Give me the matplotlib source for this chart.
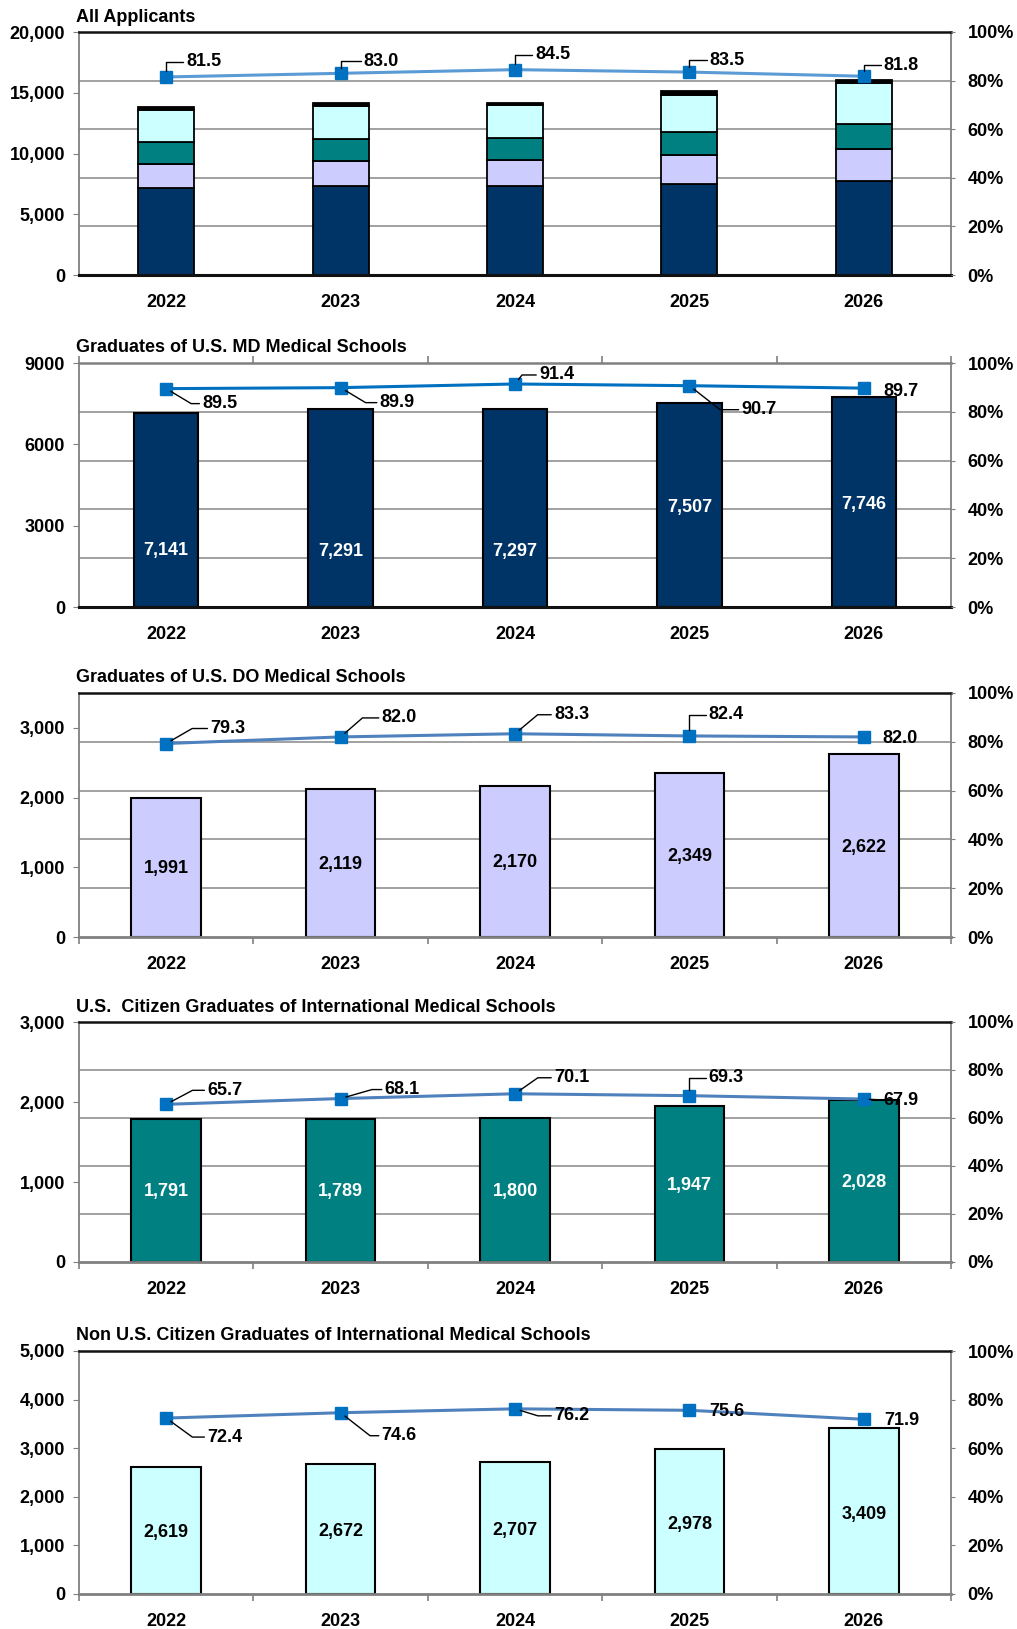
import numpy as np
import matplotlib
matplotlib.use("Agg")
import matplotlib.pyplot as plt
from matplotlib.ticker import FixedLocator, FuncFormatter

plt.rcParams['font.family'] = ['Liberation Sans', 'DejaVu Sans']
plt.rcParams['font.weight'] = 'bold'

years = ['2022', '2023', '2024', '2025', '2026']

# applicants by group
md_grads = [7141, 7291, 7297, 7507, 7746]
do_grads = [1991, 2119, 2170, 2349, 2622]
us_img = [1791, 1789, 1800, 1947, 2028]
non_us_img = [2619, 2672, 2707, 2978, 3409]
other_apps = [280, 280, 175, 325, 235]

# match rates (%)
all_pct = [81.5, 83.0, 84.5, 83.5, 81.8]
md_pct = [89.5, 89.9, 91.4, 90.7, 89.7]
do_pct = [79.3, 82.0, 83.3, 82.4, 82.0]
us_img_pct = [65.7, 68.1, 70.1, 69.3, 67.9]
non_us_img_pct = [72.4, 74.6, 76.2, 75.6, 71.9]

titles = ['All Applicants',
          'Graduates of U.S. MD Medical Schools',
          'Graduates of U.S. DO Medical Schools',
          'U.S.  Citizen Graduates of International Medical Schools',
          'Non U.S. Citizen Graduates of International Medical Schools']

NAVY = '#003366'
LAV = '#CCCCFF'
TEAL = '#008080'
CYAN = '#CCFFFF'
GRID = '#9a9a9a'
FS = 13

W, H = 1017, 1629
fig = plt.figure(figsize=(W / 100, H / 100), dpi=100)

# panel frames in pixels (top, bottom)
frames = [(32, 275), (363, 607), (693, 937), (1022, 1262), (1351, 1594)]
left_px, right_px = 79, 951


def make_axes(top, bottom):
    return fig.add_axes([left_px / W, 1 - bottom / H,
                         (right_px - left_px) / W, (bottom - top) / H])


def setup(ax, ymax, step, fmt_comma, top_style, bottom_style):
    ax.set_xlim(-0.5, 4.5)
    ax.set_ylim(0, ymax)
    ax.set_xticks(range(5))
    ax.set_xticklabels(years, fontsize=FS, fontweight='bold')
    ax.tick_params(axis='x', which='major', length=0, pad=14)
    ax.set_yticks(np.arange(0, ymax + 1, step))
    if fmt_comma:
        ax.yaxis.set_major_formatter(FuncFormatter(lambda v, p: f'{int(v):,}'))
    else:
        ax.yaxis.set_major_formatter(FuncFormatter(lambda v, p: f'{int(v)}'))
    ax.tick_params(axis='y', which='major', length=4, color='#808080',
                   labelsize=FS, pad=6)
    for lab in ax.get_yticklabels():
        lab.set_fontweight('bold')
    # gridlines follow the right-hand percent axis
    ax.yaxis.set_minor_locator(FixedLocator(np.linspace(0, ymax, 6)[1:-1]))
    ax.tick_params(axis='y', which='minor', length=0)
    ax.grid(which='minor', axis='y', color=GRID, lw=1.3)
    ax.set_axisbelow(True)
    ax.spines['left'].set_color('#808080')
    ax.spines['left'].set_linewidth(1.3)
    ax.spines['right'].set_color('#808080')
    ax.spines['right'].set_linewidth(1.3)
    if top_style == 'black':
        ax.spines['top'].set_color('#111111')
        ax.spines['top'].set_linewidth(1.8)
    else:
        ax.spines['top'].set_color('#808080')
        ax.spines['top'].set_linewidth(1.8)
    if bottom_style == 'black':
        ax.spines['bottom'].set_color('#111111')
        ax.spines['bottom'].set_linewidth(2.2)
    else:
        ax.spines['bottom'].set_color('#808080')
        ax.spines['bottom'].set_linewidth(2.0)
        ax.xaxis.set_minor_locator(FixedLocator(np.arange(-0.5, 5, 1)))
        ax.tick_params(axis='x', which='minor', length=5, color='#808080', width=1.2)
    if top_style == 'gray_ticks':
        ax.xaxis.set_minor_locator(FixedLocator(np.arange(-0.5, 5, 1)))
        ax.tick_params(axis='x', which='minor', length=5, color='#808080',
                       width=1.2, top=True, bottom=False)


def pct_axis(ax, pct, line_color, label_specs):
    ax2 = ax.twinx()
    ax2.set_ylim(0, 100)
    ax2.set_yticks(np.arange(0, 101, 20))
    ax2.yaxis.set_major_formatter(FuncFormatter(lambda v, p: f'{int(v)}%'))
    ax2.tick_params(axis='y', length=3, color='#808080', labelsize=FS, pad=9)
    for lab in ax2.get_yticklabels():
        lab.set_fontweight('bold')
    for s in ax2.spines.values():
        s.set_visible(False)
    x = np.arange(5)
    ax2.plot(x, pct, color=line_color, lw=2.2, zorder=3)
    ax2.plot(x, pct, ls='none', marker='s', ms=8, color='#0070C0', zorder=4)
    for i, (v, (dx, dy, ang)) in enumerate(zip(pct, label_specs)):
        kw = dict(xy=(i, v), xytext=(dx, dy), textcoords='offset pixels',
                  ha='left', va='center', fontsize=FS, fontweight='bold',
                  color='black', zorder=5)
        if ang is None:
            ax2.annotate(f'{v:.1f}', **kw)
        else:
            if ang == 'h':
                cs = 'arc3,rad=0'
            else:
                cs = f'angle,angleA=0,angleB={ang},rad=0'
            ax2.annotate(f'{v:.1f}', arrowprops=dict(
                arrowstyle='-', color='black', lw=1.0, shrinkA=0, shrinkB=4,
                relpos=(0, 0.5), connectionstyle=cs), **kw)
    return ax2


def title(ax, text):
    ax.annotate(text, xy=(0, 1), xycoords='axes fraction', xytext=(-3, 15),
                textcoords='offset pixels', ha='left', va='center',
                fontsize=FS, fontweight='bold')


def bar_labels(ax, vals, color, fracs):
    for i, (v, f) in enumerate(zip(vals, fracs)):
        ax.text(i, v * f, f'{v:,}', ha='center', va='center', color=color,
                fontsize=FS, fontweight='bold', zorder=4)


x = np.arange(5)

# ---- panel 1: all applicants, stacked ----
ax = make_axes(*frames[0])
setup(ax, 20000, 5000, True, 'black', 'black')
bottom = np.zeros(5)
for vals, col in [(md_grads, NAVY), (do_grads, LAV), (us_img, TEAL),
                  (non_us_img, CYAN), (other_apps, 'black')]:
    ax.bar(x, vals, 0.32, bottom=bottom, color=col, edgecolor='black', lw=1.3, zorder=2)
    bottom += np.array(vals)
pct_axis(ax, all_pct, '#5B9BD5',
         [(20, 15, 90), (23, 12, 90), (20, 15, 90), (20, 12, 90), (20, 11, 90)])
title(ax, titles[0])

# ---- panel 2: MD ----
ax = make_axes(*frames[1])
setup(ax, 9000, 3000, False, 'gray_ticks', 'black')
ax.bar(x, md_grads, 0.37, color=NAVY, edgecolor='black', lw=1.5, zorder=2)
bar_labels(ax, md_grads, 'white', [0.29, 0.28, 0.28, 0.49, 0.49])
pct_axis(ax, md_pct, '#0070C0',
         [(36, -15, -31), (39, -15, -31), (24, 9, 52), (52, -24, -38), (20, -3, None)])
title(ax, titles[1])

# ---- panel 3: DO ----
ax = make_axes(*frames[2])
setup(ax, 3500, 1000, True, 'black', 'gray')
ax.bar(x, do_grads, 0.40, color=LAV, edgecolor='black', lw=1.5, zorder=2)
bar_labels(ax, do_grads, 'black', [0.49] * 5)
pct_axis(ax, do_pct, '#4F81BD',
         [(44, 15, 30), (41, 19, 41), (39, 19, 40), (19, 21, 90), (19, -2, None)])
title(ax, titles[2])

# ---- panel 4: US IMG ----
ax = make_axes(*frames[3])
setup(ax, 3000, 1000, True, 'black', 'gray')
ax.bar(x, us_img, 0.40, color=TEAL, edgecolor='black', lw=1.5, zorder=2)
bar_labels(ax, us_img, 'white', [0.49] * 5)
pct_axis(ax, us_img_pct, '#4F81BD',
         [(41, 14, 28), (44, 9, 16), (39, 16, 35), (19, 18, 90), (20, -1, 'h')])
title(ax, titles[3])

# ---- panel 5: non-US IMG ----
ax = make_axes(*frames[4])
setup(ax, 5000, 1000, True, 'black', 'gray')
ax.bar(x, non_us_img, 0.40, color=CYAN, edgecolor='black', lw=1.5, zorder=2)
bar_labels(ax, non_us_img, 'black', [0.48] * 5)
pct_axis(ax, non_us_img_pct, '#4F81BD',
         [(41, -19, -36), (41, -23, -38), (39, -7, -17), (20, -1, None), (20, -1, None)])
title(ax, titles[4])

fig.savefig('out.png', dpi=100)
